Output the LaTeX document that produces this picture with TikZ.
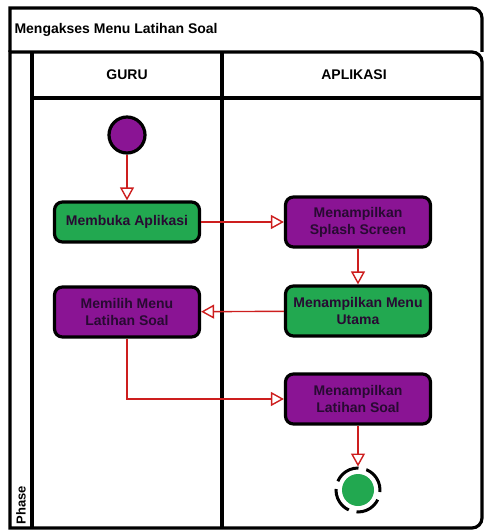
\documentclass[tikz,border=0pt]{standalone}
\usepackage{fontspec}
\setmainfont{Liberation Sans}
\usetikzlibrary{arrows.meta}
\definecolor{actgreen}{RGB}{34,168,80}
\definecolor{actpurple}{RGB}{138,20,148}
\definecolor{flowred}{RGB}{205,30,30}
\definecolor{inktext}{RGB}{40,10,50}

\begin{document}
\begin{tikzpicture}[
    x=1pt, y=-1pt,
    lane/.style={draw, line width=3.2pt},
    act/.style={rectangle, draw, line width=3.2pt, rounded corners=8pt, minimum width=145pt, minimum height=40pt, align=center, font=\bfseries\fontsize{14}{17}\selectfont, text=inktext},
    greenact/.style={act, fill=actgreen},
    purpleact/.style={act, fill=actpurple},
    lanetitle/.style={font=\bfseries\fontsize{14}{17}\selectfont},
    flow/.style={-{Triangle[open, length=13pt, width=14pt, fill=white]}, draw=flowred, line width=1.4pt},
]
\useasboundingbox (0,0) rectangle (483,532);

% Swimlanes
\draw[lane] (10,52) -- (10,8) [rounded corners=10pt] -- (482,8) -- (482,52);
\draw[lane] (10,52) -- (10,528) [rounded corners=10pt] -- (482,528) -- (482,52) [sharp corners] -- cycle;
\draw[lane] (32,52) -- (32,528);
\draw[lane] (222,52) -- (222,528);
\draw[lane] (32,98) -- (482,98);
\node[lanetitle, anchor=west] (title) at (11,30) {Mengakses Menu Latihan Soal};
\node[lanetitle] (guru) at (127,75) {GURU};
\node[lanetitle] (aplikasi) at (354,75) {APLIKASI};
\node[lanetitle, rotate=90, anchor=west, font=\bfseries\fontsize{13}{15}\selectfont] (phase) at (21,528) {Phase};

% Activities
\node[circle, draw, line width=3.2pt, fill=actpurple, minimum size=36pt] (start) at (127,135) {};
\node[greenact] (buka) at (127,222) {Membuka Aplikasi};
\node[purpleact, minimum height=50pt] (splash) at (358,222) {Menampilkan\\Splash Screen};
\node[greenact, minimum height=50pt] (menu) at (358,311) {Menampilkan Menu\\Utama};
\node[purpleact, minimum height=50pt] (pilih) at (127,312) {Memilih Menu\\Latihan Soal};
\node[purpleact, minimum height=50pt] (latihan) at (358,399) {Menampilkan\\Latihan Soal};
\node[circle, draw, line width=3pt, dash pattern=on 26pt off 8pt, minimum size=44pt] (end) at (358,490) {};
\fill[actgreen] (end.center) circle (16pt);

% Flow
\draw[flow] (start) -- (buka);
\draw[flow] (buka) -- (splash);
\draw[flow] (splash) -- (menu);
\draw[flow] (menu) -- (pilih);
\draw[flow] (pilih.south) |- (latihan.west);
\draw[flow] (latihan) -- (end);

\end{tikzpicture}
\end{document}
